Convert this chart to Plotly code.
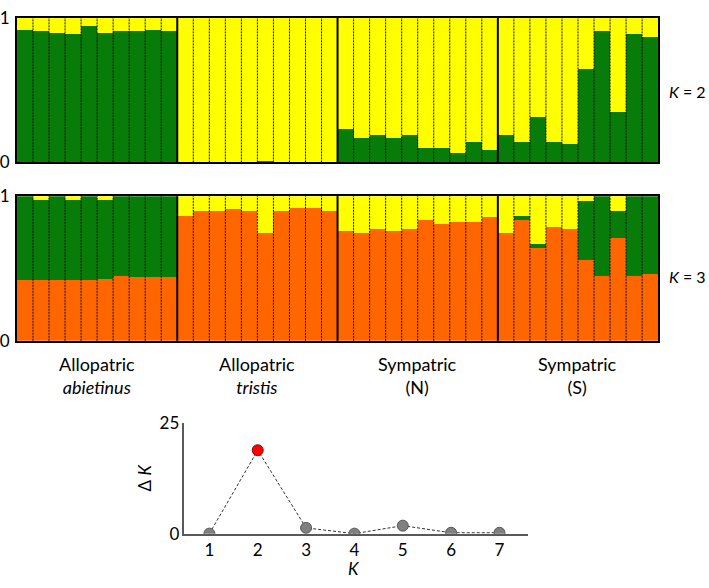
import plotly.graph_objects as go

# ---------------- data ----------------
groups = ["Allopatric<br><i>abietinus</i>", "Allopatric<br><i>tristis</i>",
          "Sympatric<br>(N)", "Sympatric<br>(S)"]
n_per_group = 10

k2_green = [0.918, 0.907, 0.898, 0.889, 0.944, 0.896, 0.909, 0.913, 0.920, 0.913,
            0.0, 0.0, 0.0, 0.0, 0.0, 0.010, 0.0, 0.0, 0.0, 0.0,
            0.233, 0.167, 0.193, 0.167, 0.193, 0.104, 0.104, 0.067, 0.144, 0.089,
            0.193, 0.144, 0.316, 0.144, 0.131, 0.649, 0.911, 0.353, 0.889, 0.867]
k2_yellow = [0.082, 0.093, 0.102, 0.111, 0.056, 0.104, 0.091, 0.087, 0.080, 0.087,
             1.0, 1.0, 1.0, 1.0, 1.0, 0.990, 1.0, 1.0, 1.0, 1.0,
             0.767, 0.833, 0.807, 0.833, 0.807, 0.896, 0.896, 0.933, 0.856, 0.911,
             0.807, 0.856, 0.684, 0.856, 0.869, 0.351, 0.089, 0.647, 0.111, 0.133]

k3_orange = [0.422, 0.422, 0.422, 0.422, 0.416, 0.424, 0.447, 0.438, 0.438, 0.442,
             0.864, 0.893, 0.893, 0.909, 0.893, 0.744, 0.896, 0.916, 0.920, 0.893,
             0.756, 0.744, 0.771, 0.760, 0.771, 0.831, 0.804, 0.820, 0.820, 0.853,
             0.742, 0.831, 0.638, 0.787, 0.771, 0.560, 0.449, 0.709, 0.444, 0.464]
k3_green = [0.578, 0.550, 0.578, 0.550, 0.584, 0.548, 0.553, 0.562, 0.562, 0.558,
            0.0, 0.0, 0.0, 0.0, 0.0, 0.0, 0.0, 0.0, 0.0, 0.0,
            0.0, 0.0, 0.0, 0.0, 0.0, 0.0, 0.0, 0.0, 0.0, 0.0,
            0.0, 0.033, 0.027, 0.0, 0.0, 0.404, 0.551, 0.184, 0.556, 0.536]
k3_yellow = [0.0, 0.028, 0.0, 0.028, 0.0, 0.028, 0.0, 0.0, 0.0, 0.0,
             0.136, 0.107, 0.107, 0.091, 0.107, 0.256, 0.104, 0.084, 0.080, 0.107,
             0.244, 0.256, 0.229, 0.240, 0.229, 0.169, 0.196, 0.180, 0.180, 0.147,
             0.258, 0.136, 0.335, 0.213, 0.229, 0.036, 0.0, 0.107, 0.0, 0.0]

k_values = [1, 2, 3, 4, 5, 6, 7]
delta_k = [0.0, 18.8, 1.3, 0.0, 1.8, 0.2, 0.2]

# ---------------- style ----------------
GREEN = "#087c08"
YELLOW = "#ffff00"
ORANGE = "#ff6600"
FONT = "Lato"
W, H = 709, 588

def px_x(a, b):
    return [a / W, b / W]

def px_y(top, bottom):
    return [1 - bottom / H, 1 - top / H]

n = len(k2_green)
idx = list(range(n))

fig = go.Figure()

def add_bar(y, color, xa, ya):
    fig.add_trace(go.Bar(x=idx, y=y, marker=dict(color=color, line=dict(width=0)),
                         xaxis=xa, yaxis=ya, showlegend=False, hoverinfo="skip"))

add_bar(k2_green, GREEN, "x", "y")
add_bar(k2_yellow, YELLOW, "x", "y")
add_bar(k3_orange, ORANGE, "x2", "y2")
add_bar(k3_green, GREEN, "x2", "y2")
add_bar(k3_yellow, YELLOW, "x2", "y2")

# Delta K plot
best = max(delta_k)
fig.add_trace(go.Scatter(
    x=k_values, y=delta_k, mode="lines+markers", xaxis="x3", yaxis="y3",
    line=dict(color="#303030", width=1, dash="3px,2px"),
    marker=dict(size=11,
                color=["#ff0000" if v == best else "#808080" for v in delta_k],
                line=dict(color=["#a00000" if v == best else "#555555" for v in delta_k],
                          width=1)),
    showlegend=False, hoverinfo="skip"))

shapes = []
for xa, ya in (("x", "y"), ("x2", "y2")):
    for i in range(1, n):
        boundary = (i % n_per_group == 0)
        shapes.append(dict(type="line", xref=xa, yref=f"{ya} domain",
                           x0=i - 0.5, x1=i - 0.5, y0=0, y1=1,
                           line=dict(color="#111111" if not boundary else "black",
                                     width=2 if boundary else 1,
                                     dash="solid" if boundary else "2px,1px"),
                           layer="above"))

bar_dom_x = px_x(15, 658)
axis_common = dict(range=[-0.5, n - 0.5], showgrid=False, zeroline=False,
                   showticklabels=False, ticks="", showline=True, mirror=True,
                   linecolor="black", linewidth=2, fixedrange=True)
yaxis_common = dict(range=[0, 1], tickvals=[0, 1], ticktext=["0", "1"],
                    showgrid=False, zeroline=False, ticks="", showline=True,
                    mirror=True, linecolor="black", linewidth=2,
                    tickfont=dict(size=17, family=FONT, color="black"), ticklabelstandoff=2)

annotations = []
for g, label in enumerate(groups):
    center = g * n_per_group + (n_per_group - 1) / 2
    annotations.append(dict(text=label, x=center, xref="x2", y=1 - 378 / H, yref="paper",
                            showarrow=False, xanchor="center", yanchor="middle",
                            font=dict(size=18, family=FONT, color="black")))
for txt, ypix in (("<i>K</i> = 2", 83), ("<i>K</i> = 3", 275)):
    annotations.append(dict(text=txt, x=667 / W, y=1 - ypix / H, xref="paper", yref="paper",
                            showarrow=False, xanchor="left", yanchor="middle",
                            font=dict(size=16, family=FONT, color="black")))
annotations.append(dict(text="<i>K</i>", x=sum(k_values) / len(k_values), xref="x3",
                        y=1 - 578 / H, yref="paper", showarrow=False,
                        xanchor="center", yanchor="middle",
                        font=dict(size=17, family=FONT, color="black")))

fig.update_layout(
    width=W, height=H, margin=dict(l=0, r=0, t=0, b=0),
    paper_bgcolor="white", plot_bgcolor="white",
    barmode="stack", bargap=0,
    shapes=shapes, annotations=annotations,
    xaxis=dict(domain=bar_dom_x, anchor="y", **axis_common),
    yaxis=dict(domain=px_y(7, 157), anchor="x", **yaxis_common),
    xaxis2=dict(domain=bar_dom_x, anchor="y2", **axis_common),
    yaxis2=dict(domain=px_y(192, 342), anchor="x2", **yaxis_common),
    xaxis3=dict(domain=px_x(183, 527), anchor="y3", range=[0.485, 7.58],
                tickvals=k_values, ticks="", showgrid=False, zeroline=False,
                showline=True, linecolor="#595959", linewidth=1.5,
                tickfont=dict(size=17, family=FONT, color="black")),
    yaxis3=dict(domain=px_y(427, 542), anchor="x3", range=[0, 25],
                tickvals=[0, 25], ticks="", showgrid=False, zeroline=False,
                showline=True, linecolor="#595959", linewidth=1.5,
                tickfont=dict(size=17, family=FONT, color="black"),
                title=dict(text="Δ <i>K</i>", font=dict(size=17, family=FONT, color="black"),
                           standoff=4)),
)

fig.write_html("out.html", config={"displayModeBar": False},
               post_script="document.body.style.margin='0';document.body.style.overflow='hidden';")
